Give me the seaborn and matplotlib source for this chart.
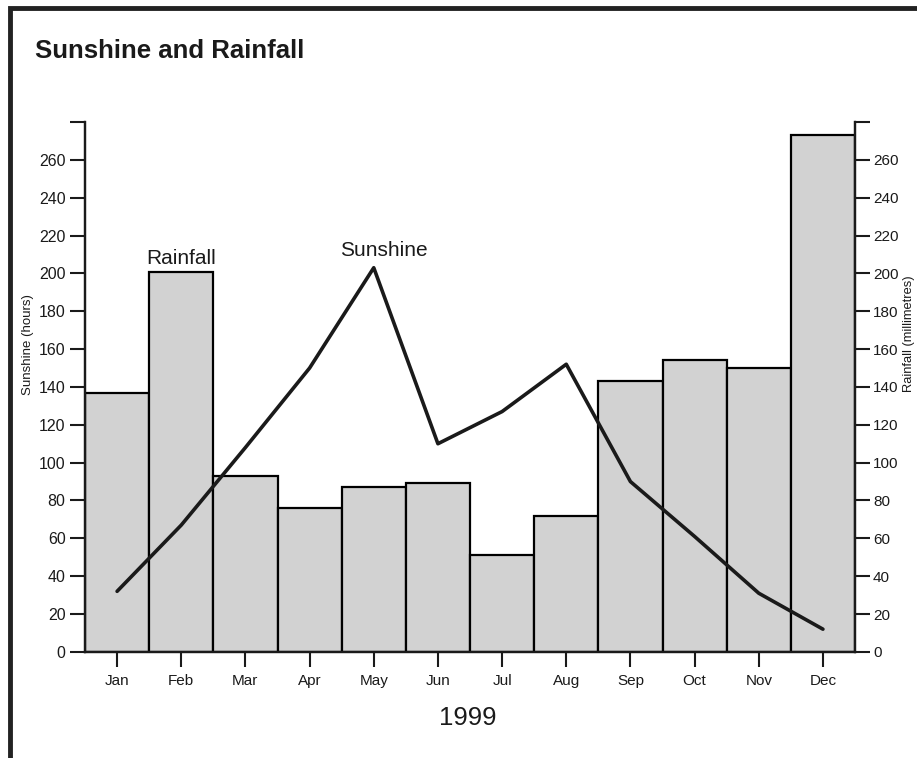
import numpy as np
import pandas as pd
import seaborn as sns
import matplotlib.pyplot as plt
from matplotlib.patches import Rectangle

months = ['Jan', 'Feb', 'Mar', 'Apr', 'May', 'Jun', 'Jul', 'Aug', 'Sep', 'Oct', 'Nov', 'Dec']
rainfall = [137, 201, 93, 76, 87, 89, 51, 72, 143, 154, 150, 273]
sunshine = [32, 67, 108, 150, 203, 110, 127, 152, 90, 61, 31, 12]
y_ticks = list(range(0, 281, 20))
y_ticklabels = [str(v) for v in y_ticks[:-1]] + ['']

df = pd.DataFrame({'month': months, 'rainfall': rainfall, 'sunshine': sunshine, 'pos': np.arange(12)})

sns.set_theme(style="white")
plt.rcParams['font.family'] = ['Liberation Sans', 'DejaVu Sans']

fig = plt.figure(figsize=(9.17, 7.58), dpi=100)
ax = fig.add_axes([0.0927, 0.140, 0.8397, 0.699])

# rainfall bars (right-hand scale)
sns.barplot(data=df, x='month', y='rainfall', ax=ax, color='#d2d2d2', saturation=1,
            width=1.0, edgecolor='black', linewidth=1.6)
ax.set_xlim(-0.5, 11.5)
ax.set_ylim(0, 280)

# sunshine line (left-hand scale)
ax2 = ax.twinx()
sns.lineplot(data=df, x='pos', y='sunshine', ax=ax2, color='#1a1a1a', linewidth=2.6)
ax2.set_xlim(-0.5, 11.5)
ax2.set_ylim(0, 280)

ax.yaxis.tick_right()
ax2.yaxis.tick_left()
for a in (ax, ax2):
    a.set_yticks(y_ticks)
    a.set_yticklabels(y_ticklabels)
    a.set_xlabel('')
    a.set_ylabel('')
    a.spines['top'].set_visible(False)
    for s in a.spines.values():
        s.set_color('#1a1a1a')
        s.set_linewidth(1.6)
    a.tick_params(axis='y', length=11, width=1.5, color='#1a1a1a', labelsize=11.5,
                  labelcolor='#1a1a1a', pad=3)
ax.tick_params(axis='y', labelsize=11, pad=2)
ax2.tick_params(axis='x', bottom=False, labelbottom=False)
ax.set_xticks(range(12))
ax.set_xticklabels(months)
ax.tick_params(axis='x', bottom=True, length=11, width=1.5, color='#1a1a1a', labelsize=11,
               labelcolor='#1a1a1a', pad=5)

ax.text(1, 203, 'Rainfall', ha='center', va='bottom', fontsize=15, color='#1a1a1a')
ax2.text(4.15, 207, 'Sunshine', ha='center', va='bottom', fontsize=15, color='#1a1a1a')

fig.text(0.03, 0.545, 'Sunshine (hours)', rotation=90, ha='center', va='center',
         fontsize=9.5, color='#1a1a1a')
fig.text(0.9915, 0.56, 'Rainfall (millimetres)', rotation=90, ha='center', va='center',
         fontsize=9.3, color='#1a1a1a')
fig.text(0.038, 0.933, 'Sunshine and Rainfall', ha='left', va='center', fontsize=18.5,
         fontweight='bold', color='#1a1a1a')
fig.text(0.51, 0.053, '1999', ha='center', va='center', fontsize=18.5, color='#1a1a1a')

# page frame (cropped at right and bottom)
fig.add_artist(Rectangle((0.011, -0.1), 1.2, 1.089, transform=fig.transFigure,
                         fill=False, edgecolor='#222222', linewidth=3.5))

fig.savefig('out.png', dpi=100)
